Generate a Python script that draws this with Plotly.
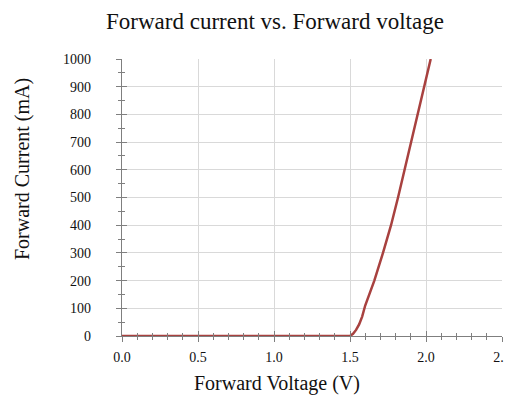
import plotly.graph_objects as go

# forward voltage (V) and forward current (mA)
voltage = [0.0, 0.5, 1.0, 1.5, 1.52, 1.54, 1.56, 1.58, 1.60, 1.625, 1.66,
           1.717, 1.770, 1.816, 1.859, 1.900, 1.943, 1.987, 2.031]
current = [0, 0, 0, 0, 8, 22, 42, 70, 110, 150, 200,
           300, 400, 500, 600, 700, 800, 900, 1000]

x_ticks = [0.0, 0.5, 1.0, 1.5, 2.0, 2.5]
x_labels = ["0.0", "0.5", "1.0", "1.5", "2.0", "2.5"]
y_ticks = [0, 100, 200, 300, 400, 500, 600, 700, 800, 900, 1000]

font = "Liberation Serif"
axis_col = "#7f7f7f"
grid_col = "#d9d9d9"

# the page has an 8px body margin, so the figure is drawn 8px in from the corner
PAD = 8
L, T, R, B = 122, 59, 502, 336   # plot area in window pixels
W, H = 512 - PAD, 410 - PAD


def px(x):
    return (x - L) / (R - L)


def py(y):
    return (B - y) / (B - T)


fig = go.Figure()
fig.add_trace(go.Scatter(x=voltage, y=current, mode="lines",
                         line=dict(color="#a8413f", width=2.5),
                         showlegend=False))

common = dict(showline=True, linecolor=axis_col, linewidth=1.2,
              gridcolor=grid_col, gridwidth=1, zeroline=False,
              tickcolor=axis_col, tickwidth=1, automargin=False,
              layer="below traces",
              tickfont=dict(family=font, size=14, color="#111"))

fig.update_layout(
    width=W, height=H,
    margin=dict(l=L - PAD, r=512 - R, t=T - PAD, b=410 - B),
    paper_bgcolor="white", plot_bgcolor="white",
    font=dict(family=font, size=14, color="#111"),
    xaxis=dict(range=[0, 2.5], tickvals=x_ticks, ticktext=x_labels,
               ticks="outside", ticklen=5, ticklabelstandoff=3,
               minor=dict(dtick=0.1, ticks="outside", ticklen=3, tickcolor=axis_col, showgrid=False),
               **common),
    yaxis=dict(range=[0, 1000], tickvals=y_ticks,
               ticks="outside", ticklen=5, ticklabelstandoff=22,
               minor=dict(dtick=50, ticks="outside", ticklen=3, tickcolor=axis_col, showgrid=False),
               **common),
    # overlay axes give the ticks their inside half, so they cross the axis lines
    xaxis2=dict(range=[0, 2.5], overlaying="x", side="bottom", showgrid=False,
                showticklabels=False, tickvals=x_ticks, ticks="inside", ticklen=5,
                tickcolor=axis_col, zeroline=False, automargin=False,
                minor=dict(dtick=0.1, ticks="inside", ticklen=3, tickcolor=axis_col)),
    yaxis2=dict(range=[0, 1000], overlaying="y", side="left", showgrid=False,
                showticklabels=False, tickvals=y_ticks, ticks="inside", ticklen=5,
                tickcolor=axis_col, zeroline=False, automargin=False,
                minor=dict(dtick=50, ticks="inside", ticklen=3, tickcolor=axis_col)),
)

# invisible trace to anchor the overlay axes
fig.add_trace(go.Scatter(x=[None], y=[None], xaxis="x2", yaxis="y2", showlegend=False,
                         hoverinfo="skip"))

labels = [
    ("Forward current vs. Forward voltage", 275, 21, 0, 23),
    ("Forward Voltage (V)", 277, 383, 0, 20),
    ("Forward Current (mA)", 22, 169, -90, 20),
]
for text, x, y, angle, size in labels:
    fig.add_annotation(text=text, xref="paper", yref="paper", x=px(x), y=py(y),
                       xanchor="center", yanchor="middle", showarrow=False,
                       textangle=angle, font=dict(family=font, size=size, color="#111"))

fig.write_html("out.html")
